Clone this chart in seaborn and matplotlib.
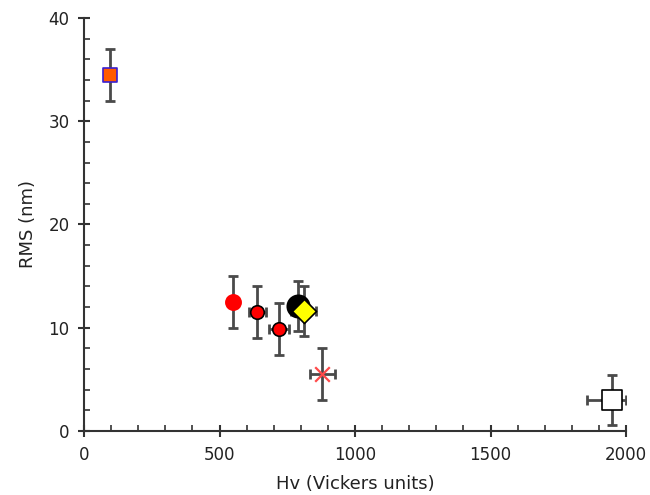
import matplotlib
matplotlib.use("Agg")
import matplotlib.pyplot as plt
import seaborn as sns
import pandas as pd
from matplotlib.ticker import MultipleLocator

# Data
hv = [95, 550, 640, 720, 790, 810, 880, 1950]
rms = [34.5, 12.5, 11.5, 9.9, 12.1, 11.6, 5.5, 3.0]
rms_err = [2.5, 2.5, 2.5, 2.5, 2.4, 2.4, 2.5, 2.4]
hv_err_lo = [0, 15, 30, 37, 0, 45, 45, 95]
hv_err_hi = [0, 15, 30, 37, 0, 45, 45, 50]
markers = ["s", "o", "o", "o", "o", "D", "x", "s"]
faces = ["#ff5a00", "#ff0000", "#ff0000", "#ff0000", "#000000", "#ffff00", "#ff4a4a", "#ffffff"]
edges = ["#3a1fd0", "#ff0000", "#000000", "#000000", "#000000", "#000000", "#ff4a4a", "#000000"]
sizes = [90, 120, 95, 95, 260, 150, 110, 210]

sns.set_theme(style="ticks")
plt.rcParams['font.family'] = ['DejaVu Sans']

fig = plt.figure(figsize=(6.5, 4.95), dpi=100)
ax = fig.add_axes([84/650, 1-431/495, (626-84)/650, (431-18)/495])

df = pd.DataFrame({"hv": hv, "rms": rms})

ax.errorbar(hv, rms, yerr=rms_err, xerr=[hv_err_lo, hv_err_hi], fmt="none",
            ecolor="#4a4a4a", elinewidth=2, capsize=3.5, capthick=2, zorder=1)

for i in range(len(hv)):
    sub = df.iloc[[i]]
    kw = dict(marker=markers[i], s=sizes[i], zorder=3 + (i == 5))
    if markers[i] == "x":
        sns.scatterplot(data=sub, x="hv", y="rms", ax=ax, color=faces[i],
                        linewidth=1.6, legend=False, **kw)
    else:
        sns.scatterplot(data=sub, x="hv", y="rms", ax=ax, color=faces[i],
                        edgecolor=edges[i], linewidth=1.2, legend=False, **kw)

ax.set_xlim(0, 2000)
ax.set_ylim(0, 40)
ax.xaxis.set_major_locator(MultipleLocator(500))
ax.xaxis.set_minor_locator(MultipleLocator(100))
ax.yaxis.set_major_locator(MultipleLocator(10))
ax.yaxis.set_minor_locator(MultipleLocator(2))
ax.tick_params(which="major", direction="inout", length=9, width=1.5, color="#333333",
               labelsize=12, labelcolor="#222222", pad=6)
ax.tick_params(which="minor", direction="in", length=4, width=1.2, color="#333333")
for s in ["top", "right"]:
    ax.spines[s].set_visible(False)
for s in ["left", "bottom"]:
    ax.spines[s].set_linewidth(1.5)
    ax.spines[s].set_color("#333333")

ax.set_xlabel("Hv (Vickers units)", fontsize=13, color="#222222", labelpad=8)
ax.set_ylabel("RMS (nm)", fontsize=13, color="#222222", labelpad=8)

fig.savefig("out.png", dpi=100)
